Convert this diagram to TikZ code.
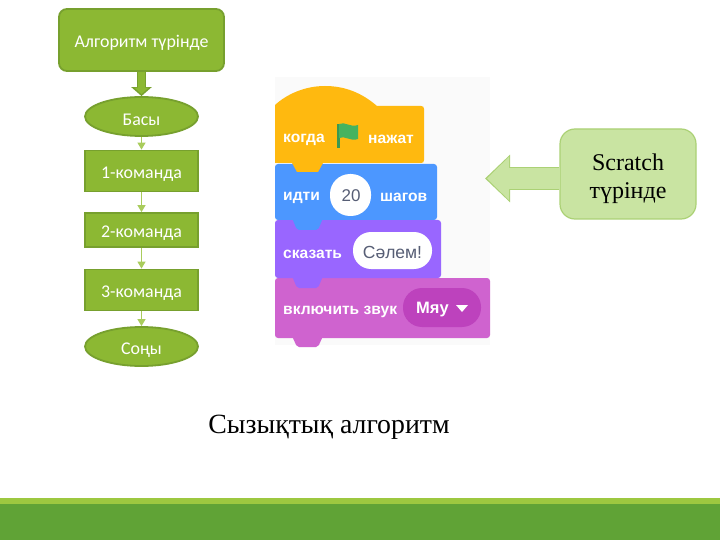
\documentclass[tikz,border=0pt]{standalone}
\usepackage{fontspec}
\setmainfont{Carlito}
\newfontfamily\serifcyr{Liberation Serif}
\newfontfamily\blockfont{Liberation Sans}
\usetikzlibrary{arrows.meta,shapes.geometric,calc}
\definecolor{flowfill}{HTML}{8CB833}
\definecolor{flowedge}{HTML}{77A02E}
\definecolor{thinarrow}{HTML}{A9CC5C}
\definecolor{softfill}{HTML}{C9E4A2}
\definecolor{softedge}{HTML}{ABD175}
\definecolor{footlight}{HTML}{9DC840}
\definecolor{footdark}{HTML}{60A336}
\definecolor{sy}{HTML}{FFB90F}
\definecolor{sb}{HTML}{4C97FF}
\definecolor{sp}{HTML}{9966FF}
\definecolor{sm}{HTML}{CF63CF}
\definecolor{smd}{HTML}{BD42BD}
\definecolor{sflag}{HTML}{45B35F}
\definecolor{sbg}{HTML}{FAFAFA}
\definecolor{stxt}{HTML}{575E75}
\newcommand{\lowered}[1]{\raisebox{-7.8pt}[0pt][0pt]{#1}}
\tikzset{
  x=1pt,y=-1pt,
  flowbox/.style={rectangle,draw=flowedge,fill=flowfill,line width=1.8pt,text=white,font=\fontsize{17.9}{20}\selectfont,inner sep=0pt,minimum width=113pt},
  flowoval/.style={ellipse,draw=flowedge,fill=flowfill,line width=1.8pt,text=white,font=\fontsize{17.9}{20}\selectfont,inner sep=0pt,minimum width=113pt,minimum height=39pt},
  thinlink/.style={draw=thinarrow,line width=1.2pt,-{Triangle[width=8pt,length=7pt]}},
  blocktext/.style={text=white,font=\blockfont\bfseries\fontsize{15.6}{17}\selectfont,inner sep=0pt,anchor=west},
}
\begin{document}
\begin{tikzpicture}
\useasboundingbox (0,0) rectangle (720,540);
\fill[white] (0,0) rectangle (720,540);
% footer
\fill[footlight] (0,498) rectangle (720,504);
\fill[footdark] (0,504) rectangle (720,540);
% flowchart
\node[flowbox,rounded corners=8pt,minimum width=165pt,minimum height=62pt] (top) at (141.5,40) {\lowered{Алгоритм түрінде}};
\node[flowoval] (start) at (141.5,116.5) {\raisebox{-8.8pt}[0pt][0pt]{Басы}};
\node[flowbox,minimum height=41pt] (c1) at (141.5,171) {\lowered{1-команда}};
\node[flowbox,minimum height=34pt] (c2) at (141.5,230) {\lowered{2-команда}};
\node[flowbox,minimum height=41pt] (c3) at (141.5,290) {\lowered{3-команда}};
\node[flowoval] (end) at (141.5,346.5) {\lowered{Соңы}};
\draw[flowedge,line width=9.5pt,-{Triangle[width=20pt,length=9pt]}] (top.south) -- (start.north);
\draw[flowfill,line width=6.5pt,shorten >=2pt,-{Triangle[width=14pt,length=6.5pt]}] (top.south) -- (start.north);
\draw[thinlink] (start.south) -- (c1.north);
\draw[thinlink] (c1.south) -- (c2.north);
\draw[thinlink] (c2.south) -- (c3.north);
\draw[thinlink] (c3.south) -- (end.north);
% scratch picture
\fill[sbg] (275,77) rectangle (490,345);
% pink block
\fill[sm,rounded corners=3pt] (275,278) -- (490,278) -- (490,338) -- (275,338) -- cycle;
\fill[sm,rounded corners=2pt] (292,336) -- (297,347) -- (318,347) -- (323,336) -- cycle;
% purple block
\fill[sp,rounded corners=3pt] (275,220) -- (441,220) -- (441,278) -- (275,278) -- cycle;
\fill[sp,rounded corners=2pt] (292,276) -- (297,288) -- (318,288) -- (323,276) -- cycle;
% blue block
\fill[sb,rounded corners=3pt] (275,164) -- (437,164) -- (437,220) -- (275,220) -- cycle;
\fill[sb,rounded corners=2pt] (292,218) -- (297,230) -- (318,230) -- (323,218) -- cycle;
% yellow hat block
\fill[sy] (275,105) .. controls (287,94) and (305,86) .. (325,86) .. controls (345,86) and (362,93) .. (377,106) -- (421,106) .. controls (423,106) and (424,107) .. (424,109) -- (424,160) .. controls (424,162) and (423,163) .. (421,163) -- (323,163) -- (318,172) -- (297,172) -- (292,163) -- (275,163) -- cycle;
% flag
\fill[sflag!85!black] (337,124) rectangle (340,148);
\fill[sflag] (339,124) .. controls (345,121) and (350,128) .. (358,125) -- (358,139) .. controls (350,142) and (345,135) .. (339,138) -- cycle;
% pills
\fill[white,rounded corners=20pt] (330,174) rectangle (371,216);
\fill[white,rounded corners=18pt] (353,232) rectangle (432,269);
\fill[smd,rounded corners=19pt] (403,288) rectangle (481,327);
\fill[white] (456,305) -- (468,305) -- (462,312) -- cycle;
% block labels
\node[blocktext] (t1) at (283,139.5) {когда};
\node[blocktext] (t2) at (368,139.5) {нажат};
\node[blocktext] (t3) at (283,197.5) {идти};
\node[blocktext,text=stxt,anchor=center,font=\blockfont\fontsize{17}{18}\selectfont] (t4) at (351,196) {20};
\node[blocktext] (t5) at (380,197.5) {шагов};
\node[blocktext] (t6) at (283,254.5) {сказать};
\node[blocktext,text=stxt,anchor=center,font=\blockfont\fontsize{17.5}{18}\selectfont] (t7) at (392.5,252) {Сәлем!};
\node[blocktext] (t8) at (283,311.5) {включить звук};
\node[blocktext,font=\blockfont\bfseries\fontsize{16.5}{18}\selectfont] (t9) at (416,310) {Мяу};
% scratch callout
\node[rectangle,rounded corners=15pt,draw=softedge,fill=softfill,line width=1.2pt,minimum width=136pt,minimum height=90pt,inner sep=0pt,font=\serifcyr\fontsize{24}{28}\selectfont] (sc) at (628,174) {\raisebox{-25pt}[0pt][0pt]{\begin{tabular}[b]{@{}c@{}}Scratch\\түрінде\end{tabular}}};
\coordinate (tipouter) at (485,178.5);
\coordinate (tipinner) at (487,178.5);
\coordinate (scanchor) at (sc.west |- tipouter);
\draw[softedge,line width=23pt,-{Triangle[width=46pt,length=25pt]}] (scanchor) -- (tipouter);
\draw[softfill,line width=21pt,-{Triangle[width=42pt,length=22pt]}] ($(scanchor)+(1,0)$) -- (tipinner);
% title
\node[font=\serifcyr\fontsize{27.8}{30}\selectfont,inner sep=0pt] (title) at (329,427) {Сызықтық алгоритм};
\end{tikzpicture}
\end{document}
